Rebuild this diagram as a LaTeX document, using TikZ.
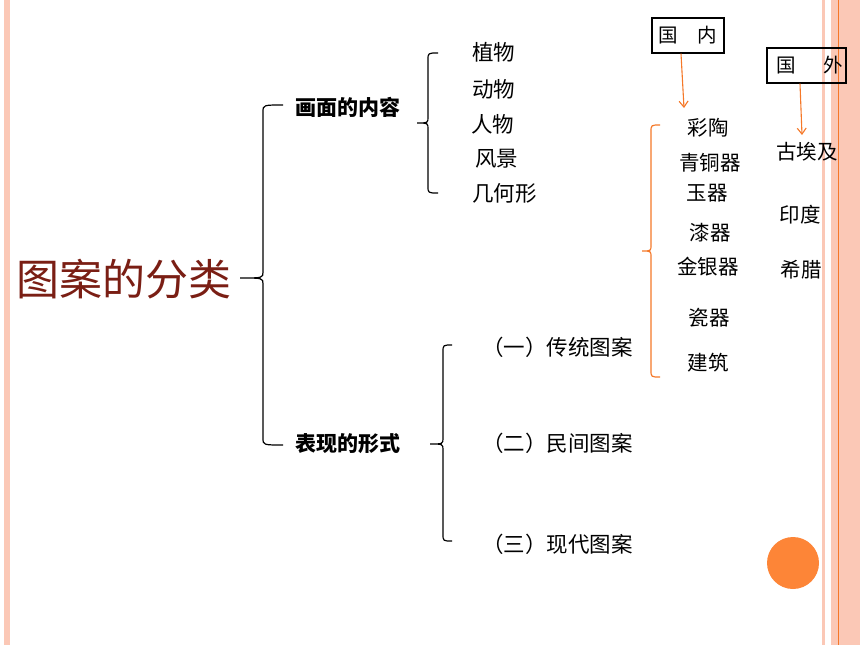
\documentclass[tikz,border=0pt]{standalone}
\usepackage{fontspec}
\setmainfont{Noto Sans CJK SC}
\usepackage{tikz}
\usetikzlibrary{arrows.meta}
\definecolor{pattitle}{RGB}{122,30,20}
\definecolor{patorange}{RGB}{245,120,40}
\definecolor{patstripe}{RGB}{251,200,182}
\definecolor{patdot}{RGB}{253,133,55}
\tikzstyle{pattitle}=[text=pattitle, font=\fontsize{43}{43}\selectfont, inner sep=0pt]
\tikzstyle{pathead}=[font=\fontsize{21}{21}\selectfont\bfseries, inner sep=0pt]
\tikzstyle{patitem}=[font=\fontsize{21.5}{21.5}\selectfont, inner sep=0pt]
\tikzstyle{patsmall}=[font=\fontsize{20.5}{20.5}\selectfont, inner sep=0pt]
\tikzstyle{patbox}=[rectangle, draw, line width=1.2pt, minimum height=35pt, inner sep=0pt, font=\fontsize{19.5}{19.5}\selectfont]
\tikzstyle{patline}=[line width=1.2pt]
\tikzstyle{patarrow}=[->, patorange, line width=1.1pt]
\newcommand{\patitem}[3]{
	\node[patitem, anchor=west] (#1) at (#2) {#3};}
\newcommand{\patsmall}[3]{
	\node[patsmall] (#1) at (#2) {#3};}
\newcommand{\patbrace}[7]{
	\draw[patline, #1] (#2,#4) .. controls (#3,#4) .. (#3,#4+7) -- (#3,#7-6)
		.. controls (#3,#7) .. (#6,#7) .. controls (#3,#7) .. (#3,#7+6)
		-- (#3,#5-7) .. controls (#3,#5) .. (#2,#5);}

\begin{document}
\begin{tikzpicture}[x=1pt, y=-1pt, >={Straight Barb[length=6pt, width=9pt]}]
\useasboundingbox (0,0) rectangle (860,645);
% side stripes
\fill[patstripe] (4,0) rectangle (10,645);
\fill[patstripe] (822,0) rectangle (825,645);
\fill[patstripe] (831,0) rectangle (860,645);
\draw[patorange, line width=1.2pt] (838.5,0) -- (838.5,645);
\fill[patdot] (793,563) circle[radius=26pt];
% title and headings
\node[pattitle] (title) at (124,279) {图案的分类};
\node[pathead] (content) at (348,107) {画面的内容};
\node[pathead] (form) at (348,444) {表现的形式};
\patbrace{}{283}{263}{105}{445}{240}{278}
% content
\patitem{plant}{472,52}{植物}
\patitem{animal}{472,89}{动物}
\patitem{people}{471,124}{人物}
\patitem{scenery}{475,159}{风景}
\patitem{geometry}{472,193}{几何形}
\patbrace{}{438}{428}{53}{193}{417}{123}
% form
\node[patitem, anchor=east] (tradition) at (633,347) {（一）传统图案};
\node[patitem, anchor=east] (folk) at (633,443) {（二）民间图案};
\node[patitem, anchor=east] (modern) at (633,544) {（三）现代图案};
\patbrace{}{452}{443}{345}{541}{430}{444}
% domestic
\node[patbox, minimum width=72pt] (guonei) at (688,35.5) {国　内};
\patsmall{caitao}{708,128}{彩陶}
\patsmall{bronze}{710,163}{青铜器}
\patsmall{jade}{707,193}{玉器}
\patsmall{lacquer}{710,233}{漆器}
\patsmall{gold}{708,267}{金银器}
\patsmall{porcelain}{709,318}{瓷器}
\patsmall{building}{708,363}{建筑}
\patbrace{patorange}{660}{651}{125}{377}{642}{251}
% foreign
\node[patbox, minimum width=79pt] (guowai) at (806.5,65.5) {\hspace{7pt}国\hspace{28pt}外};
\patsmall{egypt}{807,152}{古埃及}
\patsmall{india}{800,215}{印度}
\patsmall{greece}{801,270}{希腊}
\coordinate (neiend) at (684,108);
\coordinate (waiend) at (802,135);
\path[patarrow] ([xshift=-7pt]guonei.south) edge (neiend);
\path[patarrow] ([xshift=-6.5pt]guowai.south) edge (waiend);
\end{tikzpicture}
\end{document}
